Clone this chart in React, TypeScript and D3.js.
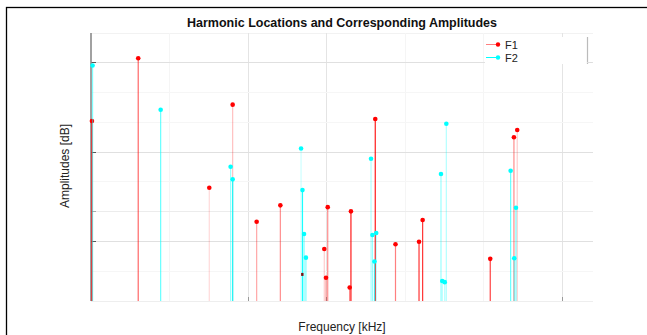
import React, { useRef, useEffect } from 'react';
import * as d3 from 'd3';

// harmonic locations [kHz] and amplitudes [dB]
const F1_FREQ = [0.006, 0.301, 0.754, 0.903, 1.056, 1.207, 1.487, 1.498, 1.509, 1.649, 1.657, 1.812, 1.941, 2.091, 2.114, 2.545, 2.696, 2.717];
const F1_AMP = [-29.8, -8.8, -52.1, -24.3, -63.5, -58.0, -72.6, -82.2, -58.6, -85.5, -60.0, -29.1, -71.0, -70.2, -62.9, -75.9, -35.2, -32.8];
const F2_FREQ = [0.010, 0.444, 0.890, 0.903, 1.339, 1.348, 1.358, 1.370, 1.785, 1.794, 1.807, 1.818, 2.231, 2.239, 2.255, 2.265, 2.675, 2.698, 2.709];
const F2_AMP = [-11.2, -26.0, -45.1, -49.3, -39.0, -52.9, -67.6, -75.5, -42.4, -67.9, -76.8, -67.25, -47.5, -83.3, -83.7, -30.7, -46.4, -75.7, -58.8];
const EXTRA_FREQ = [1.347];
const EXTRA_AMP = [-81.1];

// stem line opacities (rendering style of the original)
const F1_ALPHA = [0.9, 0.6, 0.15, 0.25, 0.35, 0.45, 0.2, 0.4, 0.45, 0.5, 0.9, 0.9, 0.5, 0.8, 0.8, 0.75, 0.45, 0.2];
const F2_ALPHA = [0.5, 0.6, 0.4, 0.9, 0.2, 0.9, 0.5, 0.5, 0.3, 0.4, 0.7, 0.3, 0.4, 0.3, 0.3, 0.3, 0.6, 0.5, 0.5];

const X_GRID = [0.5, 1.0, 1.5, 2.0, 2.5, 3.0];
const X_TICKS = [1.0, 1.5, 3.0];
const Y_GRID = [-80, -70, -60, -50, -40, -30, -20, -10];
const Y_STRONG = [-70, -40, -10];
const Y_MEDIUM = [-60];

const TITLE = 'Harmonic Locations and Corresponding Amplitudes';

const W = 647;
const H = 335;

const App = () => {
  const ref = useRef(null);

  useEffect(() => {
    const svg = d3.select(ref.current);
    svg.selectAll('*').remove();

    const x = d3.scaleLinear().domain([0, 3.2]).range([91, 593]);
    const y = d3.scaleLinear().domain([-90, 0]).range([301, 32]);
    const font = 'Liberation Sans, Arial, sans-serif';

    svg.append('rect').attr('width', W).attr('height', H).attr('fill', '#fff');

    // outer frame
    svg.append('rect')
      .attr('x', 6.5).attr('y', 7.5)
      .attr('width', 700).attr('height', 400)
      .attr('fill', 'none').attr('stroke', '#000').attr('stroke-width', 1.3);

    // plot area edges
    svg.append('line').attr('x1', 91).attr('x2', 593).attr('y1', 33.5).attr('y2', 33.5)
      .attr('stroke', '#f2f2f2');
    svg.append('line').attr('x1', 91).attr('x2', 593).attr('y1', 301.5).attr('y2', 301.5)
      .attr('stroke', '#eeeeee');

    // grid
    X_GRID.forEach(v => {
      const strong = X_TICKS.includes(v);
      svg.append('line')
        .attr('x1', Math.round(x(v)) + 0.5).attr('x2', Math.round(x(v)) + 0.5)
        .attr('y1', 33).attr('y2', 301)
        .attr('stroke', strong ? '#e4e4e4' : '#f5f5f5');
    });
    Y_GRID.forEach(v => {
      const c = Y_STRONG.includes(v) ? '#e0e0e0' : Y_MEDIUM.includes(v) ? '#ececec' : '#f6f6f6';
      svg.append('line')
        .attr('x1', 91).attr('x2', 593)
        .attr('y1', Math.round(y(v)) + 0.5).attr('y2', Math.round(y(v)) + 0.5)
        .attr('stroke', c);
    });

    // ticks
    X_TICKS.forEach(v => {
      svg.append('line')
        .attr('x1', Math.round(x(v)) + 0.5).attr('x2', Math.round(x(v)) + 0.5)
        .attr('y1', 297).attr('y2', 301)
        .attr('stroke', '#999');
    });
    Y_GRID.filter(v => Y_STRONG.includes(v) || Y_MEDIUM.includes(v)).forEach(v => {
      svg.append('line')
        .attr('x1', 91).attr('x2', 96)
        .attr('y1', Math.round(y(v)) + 0.5).attr('y2', Math.round(y(v)) + 0.5)
        .attr('stroke', Y_STRONG.includes(v) ? '#555' : '#aaa');
    });

    // left axis
    svg.append('line').attr('x1', 91).attr('x2', 91).attr('y1', 33).attr('y2', 301)
      .attr('stroke', '#8a8a8a').attr('stroke-width', 1.6);

    // stems
    const stems = (fx, fy, alpha, color) => {
      const g = svg.append('g');
      fx.forEach((f, i) => {
        g.append('line')
          .attr('x1', x(f)).attr('x2', x(f))
          .attr('y1', y(-90)).attr('y2', y(fy[i]))
          .attr('stroke', color).attr('stroke-opacity', alpha[i]).attr('stroke-width', 1.2);
      });
      fx.forEach((f, i) => {
        g.append('circle')
          .attr('cx', x(f)).attr('cy', y(fy[i])).attr('r', 2.3)
          .attr('fill', color);
      });
    };
    stems(F1_FREQ, F1_AMP, F1_ALPHA, '#ff0000');
    stems(F2_FREQ, F2_AMP, F2_ALPHA, '#00ffff');

    EXTRA_FREQ.forEach((f, i) => {
      svg.append('rect')
        .attr('x', x(f) - 1.2).attr('y', y(EXTRA_AMP[i]) - 1.5)
        .attr('width', 2.4).attr('height', 3)
        .attr('fill', '#7a1010');
    });

    // legend
    const lg = svg.append('g');
    lg.append('rect').attr('x', 485).attr('y', 37).attr('width', 102).attr('height', 27)
      .attr('fill', '#fff');
    lg.append('line').attr('x1', 587.5).attr('x2', 587.5).attr('y1', 37).attr('y2', 64)
      .attr('stroke', '#bbb').attr('stroke-width', 1.2);
    lg.append('line').attr('x1', 587).attr('x2', 592).attr('y1', 62.5).attr('y2', 62.5)
      .attr('stroke', '#ddd');
    [['F1', '#ff0000', 0.5, 44.5], ['F2', '#00ffff', 1, 57.5]].forEach(([name, c, a, ly]) => {
      lg.append('line').attr('x1', 486).attr('x2', 498).attr('y1', ly).attr('y2', ly)
        .attr('stroke', c).attr('stroke-opacity', a);
      lg.append('circle').attr('cx', 498).attr('cy', ly).attr('r', 2.2).attr('fill', c);
      lg.append('text').attr('x', 505).attr('y', ly + 4)
        .attr('font-family', font).attr('font-size', 11).attr('fill', '#222')
        .text(name);
    });

    // title and labels
    svg.append('text')
      .attr('x', 342).attr('y', 27)
      .attr('text-anchor', 'middle')
      .attr('font-family', font).attr('font-weight', 'bold').attr('font-size', 12.5)
      .attr('fill', '#111')
      .text(TITLE);

    svg.append('text')
      .attr('x', 342).attr('y', 331)
      .attr('text-anchor', 'middle')
      .attr('font-family', font).attr('font-size', 12)
      .attr('fill', '#222')
      .text('Frequency [kHz]');

    svg.append('text')
      .attr('transform', 'translate(69, 166) rotate(-90)')
      .attr('text-anchor', 'middle')
      .attr('font-family', font).attr('font-size', 12)
      .attr('fill', '#222')
      .text('Amplitudes [dB]');
  }, []);

  return (
    <svg
      ref={ref}
      width={W}
      height={H}
      style={{ position: 'absolute', left: 0, top: 0, display: 'block' }}
    />
  );
};

export default App;
